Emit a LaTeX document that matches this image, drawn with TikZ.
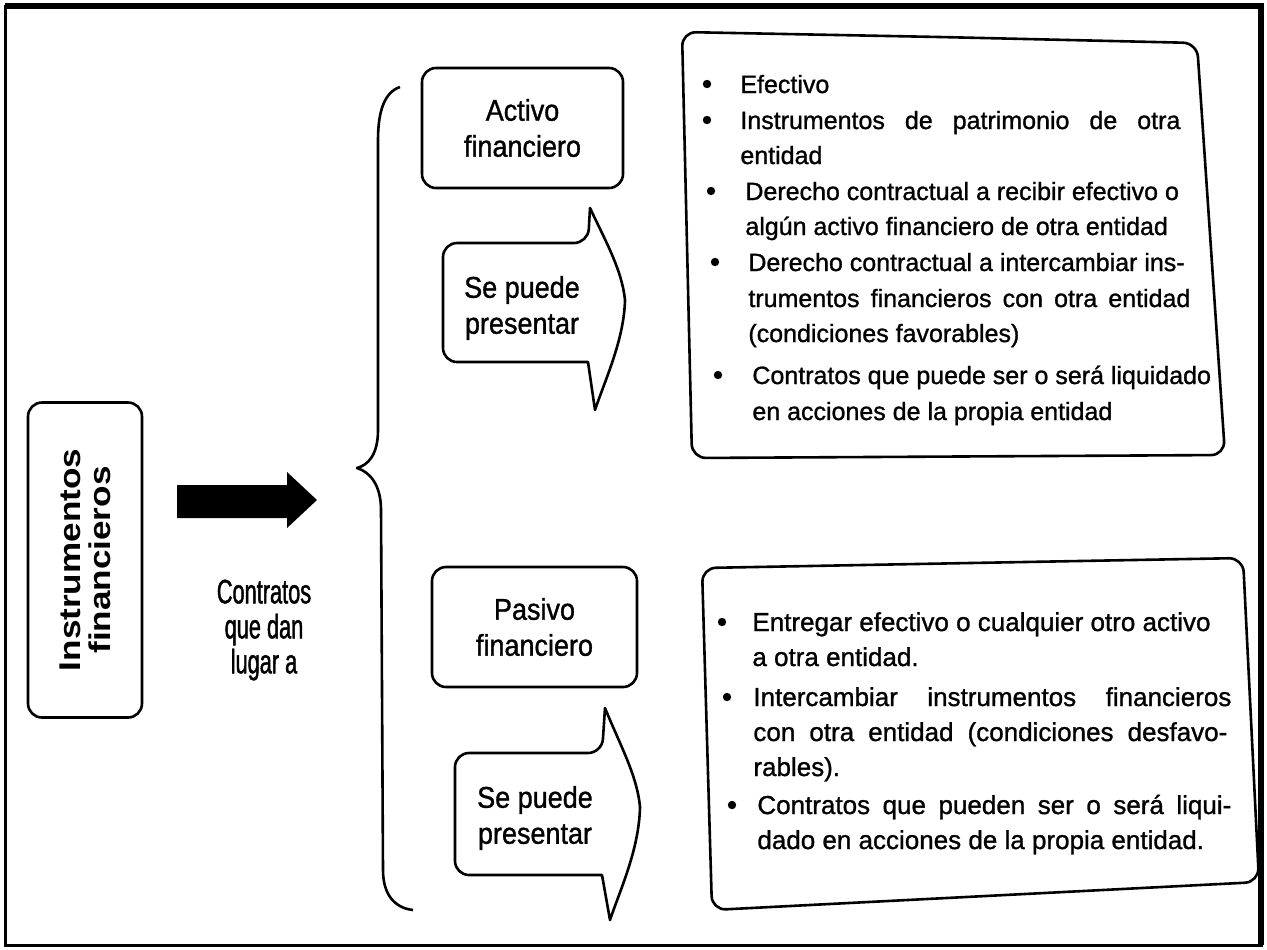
\documentclass[tikz,border=0pt]{standalone}
\usepackage{fontspec}
\setmainfont{Liberation Sans}
\newfontfamily\txtfont{Liberation Sans}[FakeBold=1.1]
\newfontfamily\labfont{Liberation Sans}[FakeStretch=0.9,FakeBold=1.1]
\newfontfamily\confont{Liberation Sans}[FakeStretch=0.64,FakeBold=1.2]
\newfontfamily\instfont{Liberation Sans}[FakeStretch=1.17]
\tikzset{
  box/.style={draw, line width=1.3pt, rounded corners=7pt, inner sep=0pt, align=center},
  lab/.style={font=\labfont\fontsize{15}{18}\selectfont, align=center, inner sep=0pt},
  ln/.style={anchor=base west, inner sep=0pt, font=\txtfont\fontsize{12.5}{15}\selectfont},
  lnb/.style={anchor=base west, inner sep=0pt, font=\txtfont\fontsize{13}{15}\selectfont},
  dot/.style={circle, fill, inner sep=0pt, minimum size=4.2pt},
  shp/.style={line width=1.3pt, line join=round},
}
\begin{document}
\begin{tikzpicture}[x=0.5pt,y=-0.5pt]
\useasboundingbox (0,0) rectangle (1267,949);
% frame
\draw[line width=1.5pt] (5,6) rectangle (1261,945);
\draw[line width=2.8pt] (5,6) -- (1261,6) -- (1261,945);

% left box
\node[box, rotate=90, minimum width=157.5pt, minimum height=57pt,
      font=\instfont\bfseries\fontsize{15}{15}\selectfont] (inst) at (85,560)
      {Instrumentos\\financieros};

% big arrow
\fill (177,485) -- (287,485) -- (287,472) -- (317,500) -- (287,528) -- (287,518) -- (177,518) -- cycle;

\node[font=\confont\fontsize{17}{17.5}\selectfont, align=center, inner sep=0pt] (contr) at (264,630)
      {Contratos\\que dan\\lugar a};

% brace
\draw[shp] (400,87) .. controls (385,92) and (378,110) .. (378,140) -- (378,430)
  .. controls (378,455) and (368,465) .. (357,468)
  .. controls (370,472) and (381,485) .. (381,510) -- (383,870)
  .. controls (383,895) and (395,908) .. (413,910);

% Activo financiero
\node[box, minimum width=100.5pt, minimum height=60pt, lab] (act) at (522.5,128) {Activo\\financiero};
% top callout arrow
\draw[shp] (515,243) [rounded corners=7pt] -- (588,243) [sharp corners] -- (590,208)
  .. controls (605,240) and (622,270) .. (625,300)
  .. controls (624,340) and (605,380) .. (595,410)
  -- (588,362) [rounded corners=7pt] -- (443,362) -- (443,243) -- (515,243);
\node[lab] (sp1) at (522,308) {Se puede\\presentar};

% Pasivo financiero
\node[box, minimum width=102.5pt, minimum height=60pt, lab] (pas) at (534.5,627) {Pasivo\\financiero};
% bottom callout arrow
\draw[shp] (530,753) [rounded corners=7pt] -- (602,753) [sharp corners] -- (605,708)
  .. controls (620,745) and (637,775) .. (640,807)
  .. controls (639,850) and (620,890) .. (610,920)
  -- (602,875) [rounded corners=7pt] -- (455,875) -- (455,753) -- (530,753);
\node[lab] (sp2) at (535,818) {Se puede\\presentar};

% top bullet box
\draw[shp, rounded corners=7pt] (940,37) -- (1197,43) -- (1225,455) -- (692,458) -- (682,32) -- cycle;
\node[dot] (d1) at (707,84) {};
\node[dot] (d2) at (707,120) {};
\node[dot] (d3) at (711,191) {};
\node[dot] (d4) at (715,262) {};
\node[dot] (d5) at (718,375) {};
\node[ln] (t1) at (740,93) {Efectivo};
\node[ln] (t2a) at (740,129) {\makebox[220pt][s]{Instrumentos de patrimonio de otra}};
\node[ln] (t2b) at (740,164) {entidad};
\node[ln] (t3a) at (745,200) {Derecho contractual a recibir efectivo o};
\node[ln] (t3b) at (745,235) {algún activo financiero de otra entidad};
\node[ln] (t4a) at (748,271) {Derecho contractual a intercambiar ins-};
\node[ln] (t4b) at (748,307) {\makebox[221pt][s]{trumentos financieros con otra entidad}};
\node[ln] (t4c) at (748,342) {(condiciones favorables)};
\node[ln] (t5a) at (752,384) {Contratos que puede ser o será liquidado};
\node[ln] (t5b) at (752,420) {en acciones de la propia entidad};

% bottom bullet box
\draw[shp, rounded corners=7pt] (970,563) -- (1243,558) -- (1259,882) -- (712,910) -- (702,568) -- cycle;
\node[dot] (e1) at (722,622) {};
\node[dot] (e2) at (727,697) {};
\node[dot] (e3) at (732,805) {};
\node[lnb] (u1a) at (752,631) {Entregar efectivo o cualquier otro activo};
\node[lnb] (u1b) at (752,666) {a otra entidad.};
\node[lnb] (u2a) at (753,706) {\makebox[239pt][s]{Intercambiar instrumentos financieros}};
\node[lnb] (u2b) at (753,741) {\makebox[237pt][s]{con otra entidad (condiciones desfavo-}};
\node[lnb] (u2c) at (753,776) {rables).};
\node[lnb] (u3a) at (757,814) {\makebox[237pt][s]{Contratos que pueden ser o será liqui-}};
\node[lnb] (u3b) at (757,849) {dado en acciones de la propia entidad.};
\end{tikzpicture}
\end{document}
